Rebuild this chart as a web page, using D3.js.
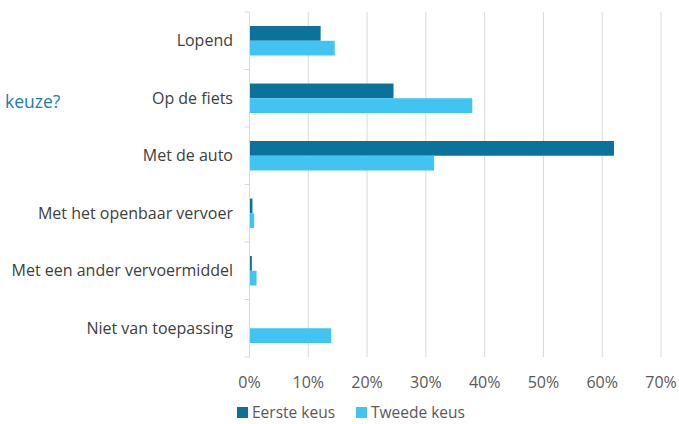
<!DOCTYPE html>
<html>
<head>
<meta charset="utf-8">
<script src="https://cdn.jsdelivr.net/npm/d3@7"></script>
<style>
  body { margin: 0; background: #fff; }
  text { font-family: "Open Sans", sans-serif; }
</style>
</head>
<body>
<div id="chart"></div>
<script>
// data
var categories = ["Lopend", "Op de fiets", "Met de auto", "Met het openbaar vervoer", "Met een ander vervoermiddel", "Niet van toepassing"];
var eersteKeus = [12.1, 24.5, 62.0, 0.5, 0.4, 0];
var tweedeKeus = [14.5, 37.9, 31.4, 0.8, 1.2, 13.9];
var xTicks = [0, 10, 20, 30, 40, 50, 60, 70];
var seriesNames = ["Eerste keus", "Tweede keus"];
var colors = ["#0b7399", "#41c4f2"];

function init() {
    var w = 679, h = 424;
    var left = 249.5, right = 661, top = 12, bottom = 357;

    var svg = d3.select("#chart").append("svg")
        .attr("width", w).attr("height", h);

    var x = d3.scaleLinear().domain([0, 70]).range([left, right]);
    var y = d3.scaleBand().domain(categories).range([top, bottom]);
    var inner = d3.scaleBand().domain([0, 1]).range([0, y.bandwidth()]).paddingOuter(0.95);

    // gridlines
    svg.selectAll("line.grid")
        .data(xTicks.slice(1))
        .enter().append("line")
        .attr("class", "grid")
        .attr("x1", function(d) { return x(d); })
        .attr("x2", function(d) { return x(d); })
        .attr("y1", top).attr("y2", bottom)
        .attr("stroke", "#d9d9d9").attr("stroke-width", 1);

    // bars
    var series = [eersteKeus, tweedeKeus];
    series.forEach(function(vals, s) {
        svg.selectAll("rect.s" + s)
            .data(vals)
            .enter().append("rect")
            .attr("class", "s" + s)
            .attr("x", x(0))
            .attr("y", function(d, i) { return y(categories[i]) + inner(s); })
            .attr("width", function(d) { return x(d) - x(0); })
            .attr("height", inner.bandwidth())
            .attr("fill", colors[s]);
    });

    // y axis line and ticks
    svg.append("line")
        .attr("x1", left).attr("x2", left)
        .attr("y1", top).attr("y2", bottom)
        .attr("stroke", "#d9d9d9");
    var bounds = categories.map(function(c) { return y(c); }).concat([bottom]);
    svg.selectAll("line.ytick")
        .data(bounds)
        .enter().append("line")
        .attr("class", "ytick")
        .attr("x1", left - 5).attr("x2", left)
        .attr("y1", function(d) { return d; })
        .attr("y2", function(d) { return d; })
        .attr("stroke", "#d9d9d9");

    // category labels
    svg.selectAll("text.cat")
        .data(categories)
        .enter().append("text")
        .attr("class", "cat")
        .attr("x", 233)
        .attr("y", function(d) { return y(d) + y.bandwidth() / 2; })
        .attr("dy", "0.35em")
        .attr("text-anchor", "end")
        .attr("font-size", 16)
        .attr("fill", "#404040")
        .text(function(d) { return d; });

    // x tick labels
    svg.selectAll("text.xt")
        .data(xTicks)
        .enter().append("text")
        .attr("class", "xt")
        .attr("x", function(d) { return x(d); })
        .attr("y", 388)
        .attr("text-anchor", "middle")
        .attr("font-size", 16)
        .attr("fill", "#595959")
        .text(function(d) { return d + "%"; });

    // cut-off title (only its end is visible)
    svg.append("text")
        .attr("x", 5).attr("y", 108)
        .attr("font-size", 17.5)
        .attr("fill", "#1a7fa8")
        .text("keuze?");

    // legend
    var lx = [237, 356];
    seriesNames.forEach(function(n, i) {
        svg.append("rect")
            .attr("x", lx[i]).attr("y", 407)
            .attr("width", 11).attr("height", 11)
            .attr("fill", colors[i]);
        svg.append("text")
            .attr("x", lx[i] + 15).attr("y", 418)
            .attr("font-size", 15.5)
            .attr("fill", "#595959")
            .text(n);
    });
}

window.onload = init;
</script>
</body>
</html>
